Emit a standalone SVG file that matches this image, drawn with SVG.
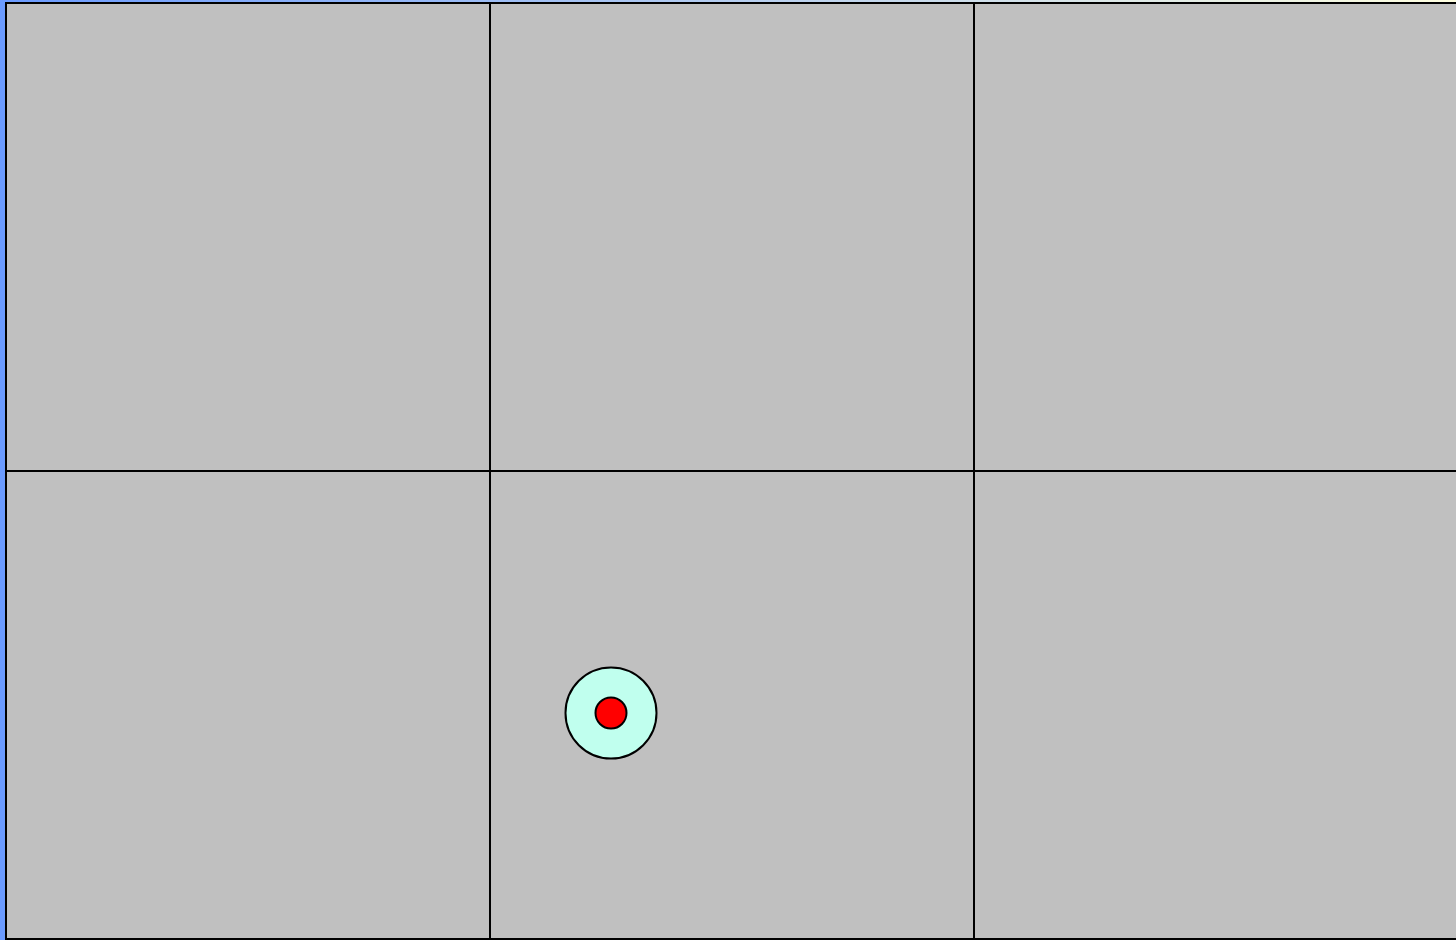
<svg xmlns="http://www.w3.org/2000/svg" width="1456" height="940" viewBox="0 0 1456 940">
<defs>
<linearGradient id="bg" x1="0" y1="0" x2="1" y2="0">
<stop offset="0" stop-color="#6b9bff"/>
<stop offset="1" stop-color="#ffffe0"/>
</linearGradient>
<style>
.cell{fill:#c0c0c0;stroke:#000;stroke-width:2}
.outer{fill:#c0ffee;stroke:#000;stroke-width:2}
.inner{fill:#ff0000;stroke:#000;stroke-width:2}
</style>
</defs>
<rect x="0" y="0" width="1456" height="940" fill="url(#bg)"/>
<g id="grid">
<rect id="cell-1-1" class="cell" x="6" y="3" width="484" height="468"/>
<rect id="cell-1-2" class="cell" x="490" y="3" width="484" height="468"/>
<rect id="cell-1-3" class="cell" x="974" y="3" width="484" height="468"/>
<rect id="cell-2-1" class="cell" x="6" y="471" width="484" height="468"/>
<rect id="cell-2-2" class="cell" x="490" y="471" width="484" height="468"/>
<rect id="cell-2-3" class="cell" x="974" y="471" width="484" height="468"/>
</g>
<g id="target">
<circle class="outer" cx="611" cy="713" r="45.5"/>
<circle class="inner" cx="611" cy="713" r="15.5"/>
</g>
</svg>
